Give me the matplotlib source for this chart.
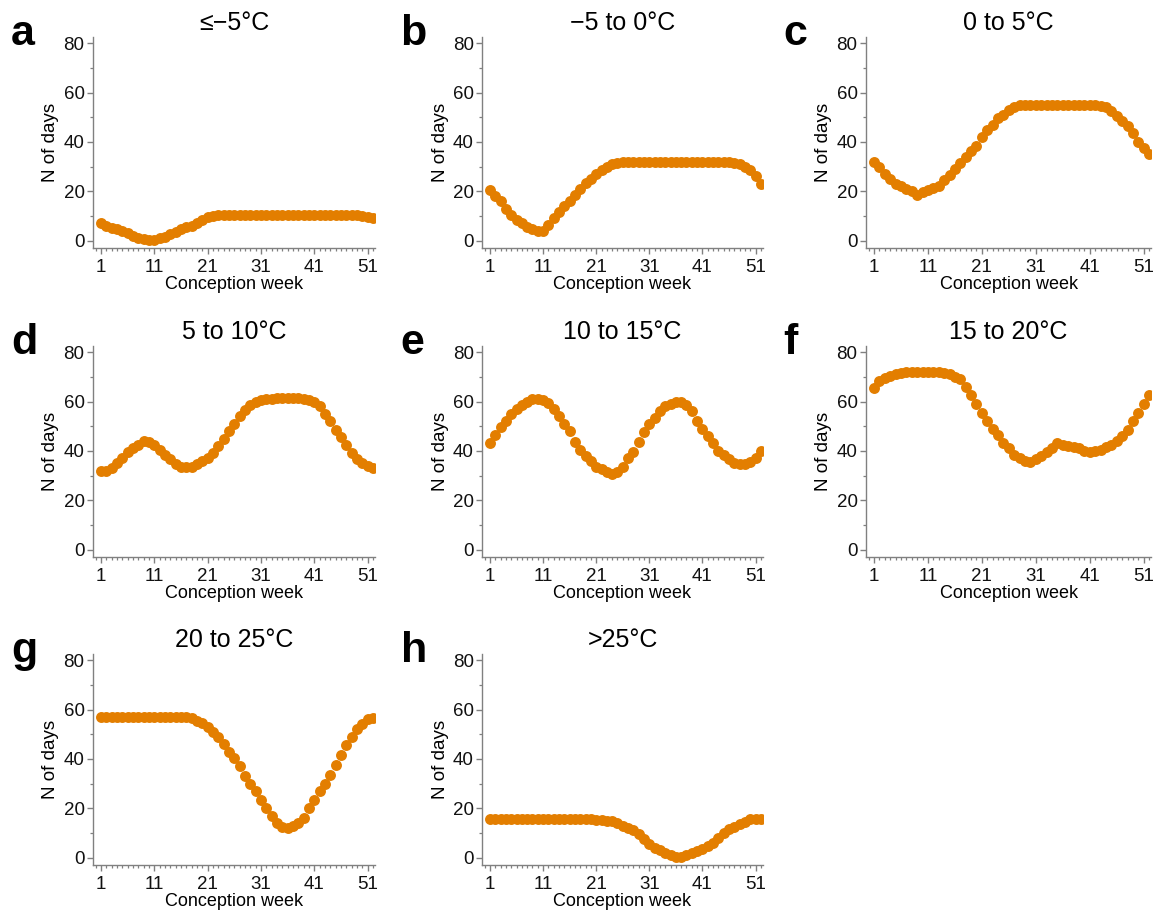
import numpy as np
import matplotlib
matplotlib.use("Agg")
from matplotlib import pyplot as plt
from matplotlib.ticker import MultipleLocator, FixedLocator

plt.rcParams['font.family'] = ['Liberation Sans', 'DejaVu Sans']

weeks = np.arange(1, 53)

panel_letters = ["a", "b", "c", "d", "e", "f", "g", "h"]
titles = ["\u2264\u22125\u00b0C", "\u22125 to 0\u00b0C", "0 to 5\u00b0C", "5 to 10\u00b0C",
          "10 to 15\u00b0C", "15 to 20\u00b0C", "20 to 25\u00b0C", ">25\u00b0C"]

days_a = [7, 6, 5, 4.5, 4, 3, 2, 1, 0.5, 0.3, 0.3, 1, 1.5, 2.5, 3.5, 4.5, 5.5, 6, 7, 8.5,
          9.5, 10, 10.2, 10.5, 10.5, 10.5, 10.5, 10.5, 10.5, 10.5, 10.5, 10.5, 10.5, 10.5, 10.5,
          10.5, 10.5, 10.5, 10.5, 10.5, 10.5, 10.5, 10.5, 10.5, 10.5, 10.5, 10.5, 10.5, 10.5,
          10, 9.5, 9]
days_b = [20.5, 18, 16, 13, 10.5, 8.5, 7, 5.5, 4.5, 4, 4, 6.5, 9, 11.5, 14, 16, 18.5, 21,
          23.5, 25, 27, 28.5, 30, 31, 31.5, 32, 32, 32, 32, 32, 32, 32, 32, 32, 32, 32, 32, 32,
          32, 32, 32, 32, 32, 32, 32, 31.8, 31.5, 31, 30, 28.5, 26, 23]
days_c = [32, 30, 27, 25, 23, 22, 21, 20, 18.5, 19.5, 20.5, 21.5, 22, 24.5, 26.5, 29, 31.5,
          34, 36.5, 38.5, 42, 45, 47, 49.5, 51, 53, 54, 55, 55, 55, 55, 55, 55, 55, 55, 55, 55,
          55, 55, 55, 55, 55, 54.5, 54, 52.5, 50.5, 48.5, 46.5, 43.5, 40, 37.5, 35]
days_d = [32, 32, 33, 35, 37, 39.5, 41, 42.5, 44, 43.5, 42.5, 40.5, 38.5, 36.5, 34.5, 33.5,
          33.5, 33.5, 34.5, 36, 37, 39, 42, 45, 48, 51, 54, 56.5, 58.5, 60, 60.5, 61, 61.2,
          61.5, 61.5, 61.5, 61.5, 61.5, 61, 60.5, 60, 58, 55, 52, 48.5, 45.5, 42.5, 39, 36.5,
          35, 34, 33]
days_e = [43, 46.5, 49.5, 52, 55, 57, 58.5, 60, 61, 61, 60.5, 59.5, 57, 54, 51, 48, 43.5,
          40.5, 38, 36, 33.5, 32.5, 31.5, 30.5, 31.5, 33.5, 37, 39.5, 43.5, 47.5, 51, 53.5, 56,
          58, 59, 60, 60, 58.5, 56, 52, 49, 46, 43, 40, 38.5, 36.5, 35, 34.5, 34.5, 35.5, 37, 40]
days_f = [65.5, 68.5, 69.5, 70.5, 71, 71.5, 72, 72, 72, 72, 72, 72, 72, 71.5, 71, 70, 69,
          66, 62.5, 59, 55.5, 52, 49, 46.5, 43, 41, 38.5, 37, 36, 35.5, 36.5, 38, 39.5, 41, 43,
          42.5, 42, 41.5, 41, 40, 39.5, 40, 40.5, 41.5, 42.5, 44, 46, 48.5, 52, 55.5, 59, 62.5]
days_g = [57, 57, 57, 57, 57, 57, 56.8, 56.8, 56.8, 56.8, 56.8, 56.8, 56.8, 56.8, 56.8, 56.8,
          56.8, 56.5, 55.5, 54.5, 53, 51, 49, 46, 43, 40.5, 37, 33, 30, 27, 23.5, 20, 17, 14,
          12.5, 12, 13, 14, 16, 20, 23.5, 27, 30, 33.5, 37.5, 41.5, 45.5, 49, 52, 54, 56, 56.5]
days_h = [15.5, 15.5, 15.5, 15.5, 15.5, 15.5, 15.5, 15.5, 15.5, 15.5, 15.5, 15.5, 15.5, 15.5,
          15.5, 15.5, 15.5, 15.5, 15.5, 15.5, 15.3, 15.2, 15, 15, 14, 13, 12, 11, 9.5, 7.5, 5.5,
          4, 3, 2, 1, 0.3, 0.3, 1, 2, 2.5, 3.5, 4.5, 6, 8, 10, 11.5, 12.5, 13.5, 14.5, 15.5,
          15.5, 15.5]

series = [days_a, days_b, days_c, days_d, days_e, days_f, days_g, days_h]

col_left = [0.0804, 0.417, 0.749]
col_width = [0.244, 0.243, 0.247]
row_bottom = [0.7284, 0.390, 0.0526]
row_height = 0.231

dot_color = "#E37E00"
axis_grey = "#808080"

fig = plt.figure(figsize=(11.56, 9.13), dpi=100)

for i, (letter, title, vals) in enumerate(zip(panel_letters, titles, series)):
    r, c = divmod(i, 3)
    ax = fig.add_axes([col_left[c], row_bottom[r], col_width[c], row_height])
    ax.scatter(weeks, vals, s=62, color=dot_color, linewidths=0, zorder=3)
    ax.set_xlim(-0.5, 52.4)
    ax.set_ylim(-3, 82.5)
    ax.xaxis.set_major_locator(FixedLocator([1, 11, 21, 31, 41, 51]))
    ax.xaxis.set_minor_locator(MultipleLocator(1))
    ax.yaxis.set_major_locator(FixedLocator([0, 20, 40, 60, 80]))
    ax.yaxis.set_minor_locator(FixedLocator([10, 30, 50, 70]))
    for side in ("top", "right"):
        ax.spines[side].set_visible(False)
    for side in ("left", "bottom"):
        ax.spines[side].set_color(axis_grey)
        ax.spines[side].set_linewidth(1.0)
    ax.tick_params(which="major", length=4, width=1, color=axis_grey,
                   labelsize=13.5, labelcolor="#111111", pad=2)
    ax.tick_params(axis="x", which="major", pad=4)
    ax.tick_params(which="minor", length=2.2, width=0.9, color=axis_grey)
    ax.set_xlabel("Conception week", fontsize=13, labelpad=0)
    ax.set_ylabel("N of days", fontsize=13.5, labelpad=3)
    ax.set_title(title, fontsize=18, pad=5)
    ax.text(-0.29, 0.962, letter, transform=ax.transAxes, fontsize=31,
            fontweight="bold", ha="left", va="baseline")

fig.savefig("out.png", dpi=100)
